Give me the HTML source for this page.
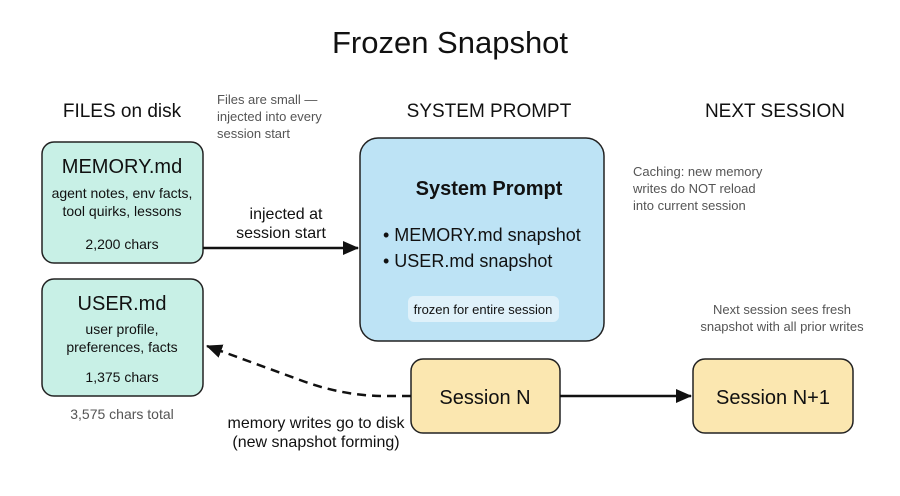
<!DOCTYPE html>
<html><head><style>
body{margin:0;background:#fff;}
svg text{font-family:"Liberation Sans",sans-serif;}
</style></head><body>
<svg width="900" height="491" viewBox="0 0 900 491" xmlns="http://www.w3.org/2000/svg">
<defs>
<marker id="ah" markerWidth="10" markerHeight="10" refX="9" refY="5" orient="auto" markerUnits="userSpaceOnUse"><path d="M0,0 L10,5 L0,10 Z" fill="#111"/></marker>
<marker id="ah2" markerWidth="16" markerHeight="14" refX="15" refY="7" orient="auto" markerUnits="userSpaceOnUse"><path d="M0,0 L16,7 L0,14 Z" fill="#111"/></marker>
</defs>
<text x="450" y="53" font-size="31" text-anchor="middle" fill="#111">Frozen Snapshot</text>
<text x="122" y="117" font-size="19" text-anchor="middle" fill="#111">FILES on disk</text>
<text x="489" y="117" font-size="19" text-anchor="middle" fill="#111">SYSTEM PROMPT</text>
<text x="775" y="117" font-size="19" text-anchor="middle" fill="#111">NEXT SESSION</text>
<g font-size="13" fill="#555">
<text x="217" y="104">Files are small —</text>
<text x="217" y="121">injected into every</text>
<text x="217" y="138">session start</text>
<text x="633" y="176">Caching: new memory</text>
<text x="633" y="193">writes do NOT reload</text>
<text x="633" y="210">into current session</text>
<text x="782" y="314" text-anchor="middle">Next session sees fresh</text>
<text x="782" y="331" text-anchor="middle">snapshot with all prior writes</text>
<text x="122" y="419" font-size="14" text-anchor="middle">3,575 chars total</text>
</g>
<rect x="42" y="142" width="161" height="121" rx="12" fill="#c8f0e6" stroke="#222" stroke-width="1.5"/>
<text x="122" y="173" font-size="20" text-anchor="middle" fill="#111">MEMORY.md</text>
<text x="122" y="198" font-size="14" text-anchor="middle" fill="#111">agent notes, env facts,</text>
<text x="122" y="216" font-size="14" text-anchor="middle" fill="#111">tool quirks, lessons</text>
<text x="122" y="249" font-size="14" text-anchor="middle" fill="#111">2,200 chars</text>
<rect x="42" y="279" width="161" height="117" rx="12" fill="#c8f0e6" stroke="#222" stroke-width="1.5"/>
<text x="122" y="310" font-size="20" text-anchor="middle" fill="#111">USER.md</text>
<text x="122" y="334" font-size="14" text-anchor="middle" fill="#111">user profile,</text>
<text x="122" y="352" font-size="14" text-anchor="middle" fill="#111">preferences, facts</text>
<text x="122" y="382" font-size="14" text-anchor="middle" fill="#111">1,375 chars</text>
<rect x="360" y="138" width="244" height="203" rx="18" fill="#bde3f5" stroke="#222" stroke-width="1.5"/>
<text x="489" y="195" font-size="20" font-weight="bold" text-anchor="middle" fill="#111">System Prompt</text>
<text x="383" y="241" font-size="18" fill="#111">• MEMORY.md snapshot</text>
<text x="383" y="267" font-size="18" fill="#111">• USER.md snapshot</text>
<rect x="408" y="296" width="151" height="26" rx="6" fill="#dff1fa"/>
<text x="483" y="314" font-size="13" text-anchor="middle" fill="#111">frozen for entire session</text>
<text x="286" y="219" font-size="16" text-anchor="middle" fill="#111">injected at</text>
<text x="281" y="238" font-size="16" text-anchor="middle" fill="#111">session start</text>
<line x1="203" y1="248" x2="358" y2="248" stroke="#111" stroke-width="2.5" marker-end="url(#ah2)"/>
<rect x="411" y="359" width="149" height="74" rx="12" fill="#fbe7b0" stroke="#222" stroke-width="1.5"/>
<text x="485" y="404" font-size="20" text-anchor="middle" fill="#111">Session N</text>
<rect x="693" y="359" width="160" height="74" rx="12" fill="#fbe7b0" stroke="#222" stroke-width="1.5"/>
<text x="773" y="404" font-size="20" text-anchor="middle" fill="#111">Session N+1</text>
<line x1="560" y1="396" x2="691" y2="396" stroke="#111" stroke-width="2.5" marker-end="url(#ah2)"/>
<path d="M411,396 L380,396 Q340,395 300,380 L207,346" fill="none" stroke="#111" stroke-width="2.5" stroke-dasharray="9,6" marker-end="url(#ah2)"/>
<text x="316" y="428" font-size="16" text-anchor="middle" fill="#111">memory writes go to disk</text>
<text x="316" y="447" font-size="16" text-anchor="middle" fill="#111">(new snapshot forming)</text>
</svg>
</body></html>
